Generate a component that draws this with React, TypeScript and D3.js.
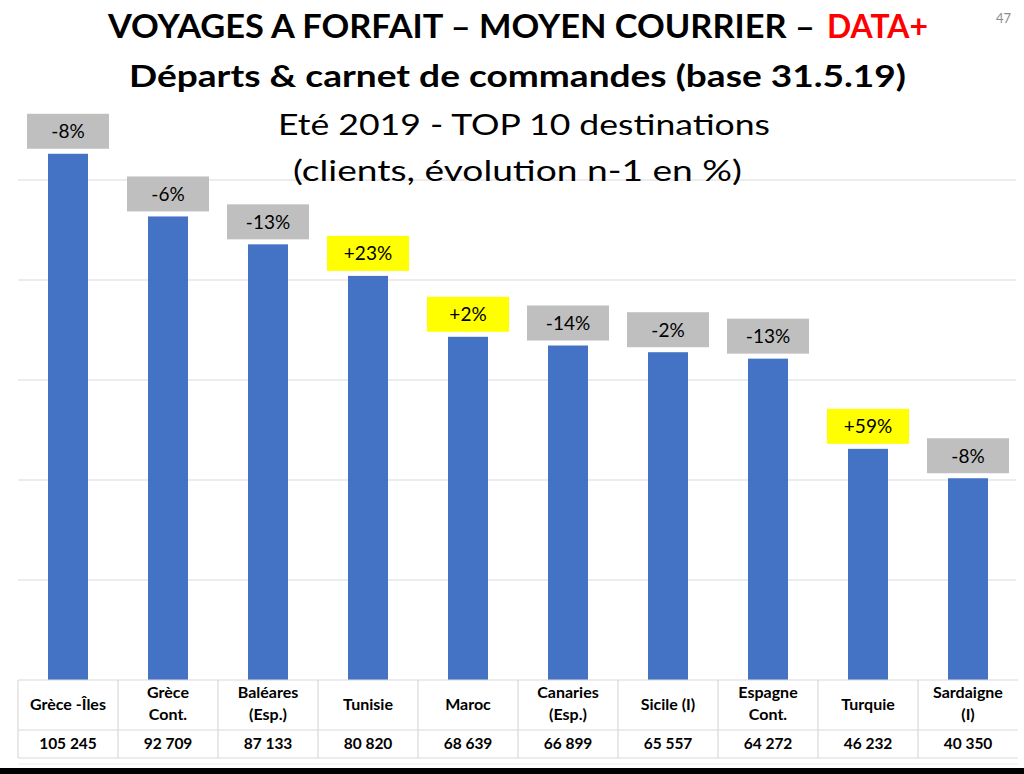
import React from "react";
import * as d3 from "d3";

const categories: string[] = [
  "Grèce -Îles",
  "Grèce\nCont.",
  "Baléares\n(Esp.)",
  "Tunisie",
  "Maroc",
  "Canaries\n(Esp.)",
  "Sicile (I)",
  "Espagne\nCont.",
  "Turquie",
  "Sardaigne\n(I)",
];
const clients: number[] = [105245, 92709, 87133, 80820, 68639, 66899, 65557, 64272, 46232, 40350];
const evolution: number[] = [-8, -6, -13, 23, 2, -14, -2, -13, 59, -8];
const gridTicks: number[] = [20000, 40000, 60000, 80000, 100000];

const titleMain = "VOYAGES A FORFAIT – MOYEN COURRIER –";
const titleRed = "DATA+";
const subtitle = "Départs & carnet de commandes (base 31.5.19)";
const line3 = "Eté 2019 - TOP 10 destinations";
const line4 = "(clients, évolution n-1 en %)";
const pageNumber = "47";

const W = 1024;
const H = 774;
const FONT = "Lato, 'Open Sans', 'DejaVu Sans', sans-serif";

const locale = d3.formatLocale({ decimal: ",", thousands: " ", grouping: [3], currency: ["", " €"] });
const fmtNum = locale.format(",d");
const fmtPct = (v: number) => (v > 0 ? "+" : "") + v + "%";

export default function App() {
  const x = d3.scaleBand<string>().domain(categories).range([18, 1018]).paddingInner(0.6).paddingOuter(0.3);
  const y = d3.scaleLinear().domain([0, 100000]).range([680, 180]);
  const step = x.step();
  const tableLeft = 18;
  const tableRight = 1018;
  const row1Top = 680;
  const row2Top = 730;
  const tableBottom = 758;
  const boxW = 82;
  const boxH = 35;
  const grid = "#d9d9d9";

  return (
    <svg
      width={W}
      height={H}
      style={{ position: "absolute", left: 0, top: 0, display: "block", background: "#fff" }}
      fontFamily={FONT}
    >
      <rect x={0} y={0} width={W} height={H} fill="#fff" />
      {/* gridlines */}
      {gridTicks.map((t) => (
        <line key={t} x1={18} x2={1016} y1={y(t)} y2={y(t)} stroke={grid} strokeWidth={1.2} />
      ))}

      {/* titles */}
      <text x={108} y={38} fontSize={33} fontWeight={700} fill="#000" textLength={707} lengthAdjust="spacingAndGlyphs">
        {titleMain}
      </text>
      <text x={827} y={38} fontSize={33} fontWeight={700} fill="#ff0000" textLength={101} lengthAdjust="spacingAndGlyphs">
        {titleRed}
      </text>
      <text x={129} y={87} fontSize={31} fontWeight={700} fill="#000" textLength={777} lengthAdjust="spacingAndGlyphs">
        {subtitle}
      </text>
      <text x={278} y={135} fontSize={28} fill="#000" textLength={492} lengthAdjust="spacingAndGlyphs">
        {line3}
      </text>
      <text x={293} y={181} fontSize={28} fill="#000" textLength={449} lengthAdjust="spacingAndGlyphs">
        {line4}
      </text>
      <text x={1011} y={23} fontSize={13} fill="#8c8c8c" textAnchor="end">
        {pageNumber}
      </text>

      {/* bars */}
      {categories.map((c, i) => (
        <rect key={c} x={x(c)} y={y(clients[i])} width={x.bandwidth()} height={y(0) - y(clients[i])} fill="#4472c4" />
      ))}

      {/* evolution labels */}
      {categories.map((c, i) => {
        const cx = (x(c) as number) + x.bandwidth() / 2;
        const top = y(clients[i]) - 5 - boxH;
        return (
          <g key={"l" + c}>
            <rect x={cx - boxW / 2} y={top} width={boxW} height={boxH} fill={evolution[i] > 0 ? "#ffff00" : "#bfbfbf"} />
            <text x={cx} y={top + boxH / 2 + 7} fontSize={19} textAnchor="middle" fill="#000">
              {fmtPct(evolution[i])}
            </text>
          </g>
        );
      })}

      {/* table */}
      <line x1={tableLeft} x2={tableRight} y1={row1Top} y2={row1Top} stroke={grid} strokeWidth={1.2} />
      <line x1={tableLeft} x2={tableRight} y1={row2Top} y2={row2Top} stroke={grid} strokeWidth={1.2} />
      <line x1={tableLeft} x2={tableRight} y1={tableBottom} y2={tableBottom} stroke={grid} strokeWidth={1.2} />
      <line x1={tableLeft} x2={tableRight} y1={764} y2={764} stroke="#ececec" strokeWidth={1} />
      {categories.map((c, i) => {
        const left = tableLeft + i * step;
        return (
          <line key={"v" + c} x1={left} x2={left} y1={row1Top} y2={tableBottom} stroke={grid} strokeWidth={1.2} />
        );
      })}
      {categories.map((c, i) => {
        const cx = (x(c) as number) + x.bandwidth() / 2;
        const lines = c.split("\n");
        return (
          <g key={"t" + c}>
            {lines.length === 1 ? (
              <text x={cx} y={710} fontSize={16} fontWeight={700} textAnchor="middle" fill="#000">
                {lines[0]}
              </text>
            ) : (
              lines.map((ln, k) => (
                <text key={k} x={cx} y={698 + k * 22} fontSize={16} fontWeight={700} textAnchor="middle" fill="#000">
                  {ln}
                </text>
              ))
            )}
            <text x={cx} y={749} fontSize={15.5} fontWeight={700} textAnchor="middle" fill="#000">
              {fmtNum(clients[i])}
            </text>
          </g>
        );
      })}

      {/* bottom black band */}
      <rect x={0} y={768} width={W} height={6} fill="#000" />
    </svg>
  );
}
